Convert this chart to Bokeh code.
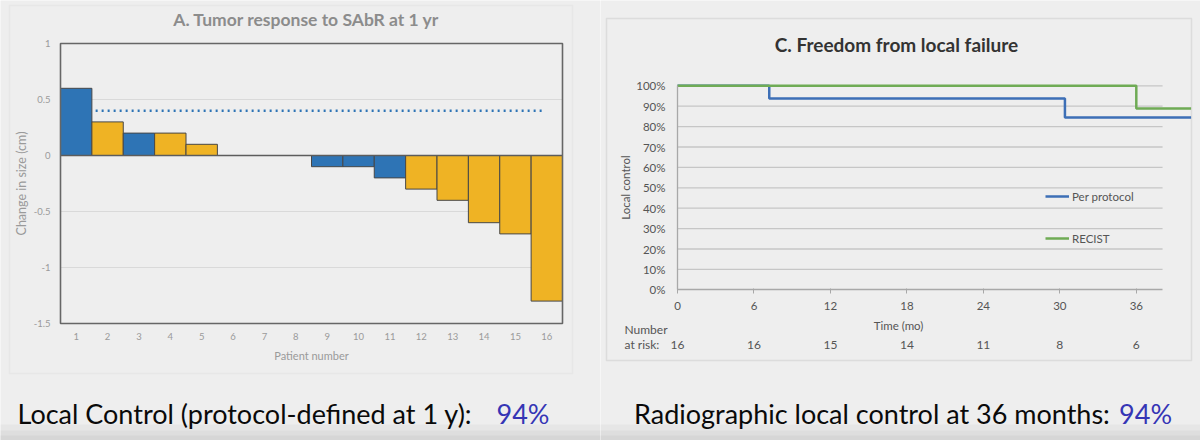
from bokeh.plotting import figure
from bokeh.models import (Range1d, FixedTicker, Label, BoxAnnotation,
                          Legend, LegendItem, NumeralTickFormatter)
from bokeh.layouts import row
from bokeh.embed import file_html
from bokeh.resources import INLINE

# ---------------- data ----------------
patients = list(range(1, 17))
change_cm = [0.6, 0.3, 0.2, 0.2, 0.1, 0.0, 0.0, 0.0,
             -0.1, -0.1, -0.2, -0.3, -0.4, -0.6, -0.7, -1.3]
bar_group = ["blue", "gold", "blue", "gold", "gold", "gold", "gold", "gold",
             "blue", "blue", "blue", "gold", "gold", "gold", "gold", "gold"]
threshold_cm = 0.4
threshold_span = [1.62, 15.85]
y_ticks_left = [-1.5, -1.0, -0.5, 0.0, 0.5, 1.0]
y_tick_labels_left = ["-1.5", "-1", "-0.5", "0", "0.5", "1"]
left_grid = [-1.0, -0.5, 0.5]

pp_time = [0, 7.2, 30.4, 40.3]
pp_control = [1.0, 0.9375, 0.844, 0.844]
recist_time = [0, 36.0, 40.3]
recist_control = [1.0, 0.889, 0.889]
x_ticks_right = [0, 6, 12, 18, 24, 30, 36]
at_risk = [16, 16, 15, 14, 11, 8, 6]
grid_levels = [0.1, 0.2, 0.3, 0.4, 0.5, 0.6, 0.7, 0.8, 0.9, 1.0]

# ---------------- style / layout ----------------
BG = "#eeeeee"
FONT = "Lato"
W, H = 600, 440
BLUE = "#2e74b5"
GOLD = "#efb324"
colors = {"blue": BLUE, "gold": GOLD}

# pixel box of each plot area inside its 600x440 canvas
L_BOX = dict(left=60, right=562, top=43, bottom=323)
L_DOM = dict(x0=0.5, x1=16.5, y0=-1.5, y1=1.0)
R_BOX = dict(left=77, right=535.8, top=85.3, bottom=289.3)   # right = x of 36 mo, top = 100 %
R_DOM = dict(x0=0.0, x1=36.0, y0=0.0, y1=1.0)
R_GRID_END = 38.06     # months, where grid lines and axis stop


def ranges(box, dom):
    kx = (box["right"] - box["left"]) / (dom["x1"] - dom["x0"])
    ky = (box["bottom"] - box["top"]) / (dom["y1"] - dom["y0"])
    xr = Range1d(dom["x0"] - box["left"] / kx, dom["x1"] + (W - box["right"]) / kx)
    yr = Range1d(dom["y0"] - (H - box["bottom"]) / ky, dom["y1"] + box["top"] / ky)
    return xr, yr


def sy(y_top):
    return H - y_top


def lab(p, x, y, text, size, color, align="left", style="normal", xu="screen",
        baseline="middle"):
    p.add_layout(Label(x=x, y=sy(y), x_units=xu, y_units="screen", text=text,
                       text_font=FONT, text_font_size=size, text_color=color,
                       text_align=align, text_baseline=baseline,
                       text_font_style=style))


def panel(p, left, right, top, bottom, color):
    p.add_layout(BoxAnnotation(left=left, right=right, bottom=sy(bottom), top=sy(top),
                               left_units="screen", right_units="screen",
                               top_units="screen", bottom_units="screen",
                               fill_color=None, line_color=color, line_width=1.5,
                               level="underlay"))


def base_fig(xr, yr):
    p = figure(width=W, height=H, x_range=xr, y_range=yr, title=None,
               output_backend="svg", toolbar_location=None,
               min_border=0, min_border_left=0, min_border_right=0,
               min_border_top=0, min_border_bottom=0,
               background_fill_color=BG, border_fill_color=BG, outline_line_color=None)
    p.xgrid.visible = False
    p.ygrid.visible = False
    # bottom shading of the slide
    for top, col in ((424, "#e6e6e6"), (430, "#dedede"), (435, "#d6d6d6")):
        p.add_layout(BoxAnnotation(left=0, right=W, bottom=0, top=sy(top),
                                   left_units="screen", right_units="screen",
                                   top_units="screen", bottom_units="screen",
                                   fill_color=col, fill_alpha=1, line_color=None,
                                   level="underlay"))
    return p


def style_axis(ax, size, color, line_color=None):
    ax.axis_line_color = line_color
    ax.major_tick_line_color = None
    ax.major_tick_in = 0
    ax.major_tick_out = 0
    ax.minor_tick_line_color = None
    ax.minor_tick_in = 0
    ax.minor_tick_out = 0
    ax.major_label_text_font = FONT
    ax.major_label_text_font_size = size
    ax.major_label_text_color = color
    ax.axis_label_text_font = FONT
    ax.axis_label_text_font_style = "normal"
    ax.axis_label_text_color = color


# ---------------- left chart ----------------
xr1, yr1 = ranges(L_BOX, L_DOM)
p1 = base_fig(xr1, yr1)
panel(p1, 9, 572, 5, 373, "#d6d6d6")

p1.segment(x0=L_DOM["x0"], x1=L_DOM["x1"], y0=left_grid, y1=left_grid,
           line_color="#d9d9d9", line_width=1.2)
p1.vbar(x=patients, top=change_cm, width=1.0,
        fill_color=[colors[g] for g in bar_group], line_color="#474747", line_width=1)
p1.line(x=[L_DOM["x0"], L_DOM["x1"]], y=[0, 0], line_color="#5c5c5c", line_width=1.6)
p1.quad(left=L_DOM["x0"], right=L_DOM["x1"], bottom=L_DOM["y0"], top=L_DOM["y1"],
        fill_color=None, line_color="#666666", line_width=1.6)
p1.line(x=threshold_span, y=[threshold_cm, threshold_cm], line_color=BLUE,
        line_width=2.5, line_dash="2 4")

for ax in (p1.xaxis[0], p1.yaxis[0]):
    style_axis(ax, "9.5px", "#9a9a9a")
p1.xaxis.fixed_location = L_DOM["y0"]
p1.xaxis.bounds = (L_DOM["x0"], L_DOM["x1"])
p1.xaxis.ticker = FixedTicker(ticks=patients)
p1.xaxis.major_label_standoff = 9
p1.xaxis.axis_label = "Patient number"
p1.xaxis.axis_label_text_font_size = "11px"
p1.xaxis.axis_label_standoff = 6
p1.yaxis.fixed_location = L_DOM["x0"]
p1.yaxis.bounds = (L_DOM["y0"], L_DOM["y1"])
p1.yaxis.ticker = FixedTicker(ticks=y_ticks_left)
p1.yaxis.major_label_overrides = dict(zip(y_ticks_left, y_tick_labels_left))
p1.yaxis.major_label_standoff = 10
p1.yaxis.axis_label = "Change in size (cm)"
p1.yaxis.axis_label_text_font_size = "12.5px"
p1.yaxis.axis_label_standoff = 2

lab(p1, 306, 19, "A. Tumor response to SAbR at 1 yr", "17.5px", "#8c8c8c", "center", "bold")
lab(p1, 17, 412.5, "Local Control (protocol-defined at 1 y):", "27px", "#0a0a0a",
    baseline="alphabetic")
lab(p1, 496, 412.5, "94%", "27px", "#3535b5", baseline="alphabetic")

# ---------------- right chart ----------------
xr2, yr2 = ranges(R_BOX, R_DOM)
p2 = base_fig(xr2, yr2)
panel(p2, 6, 591, 18, 360, "#b4b4b4")

p2.segment(x0=0, x1=R_GRID_END, y0=grid_levels, y1=grid_levels,
           line_color="#c6c6c6", line_width=1.3)
r_pp = p2.step(x=pp_time, y=pp_control, mode="after", line_color="#3d6fb6", line_width=2.5)
r_rc = p2.step(x=recist_time, y=recist_control, mode="after", line_color="#6fab55",
               line_width=2.5)

for ax in (p2.xaxis[0], p2.yaxis[0]):
    style_axis(ax, "11.5px", "#555555", "#a8a8a8")
    ax.axis_line_width = 1.3
p2.xaxis.fixed_location = 0
p2.xaxis.bounds = (0, R_GRID_END)
p2.xaxis.ticker = FixedTicker(ticks=x_ticks_right)
p2.xaxis.major_tick_in = 1
p2.xaxis.major_tick_out = 4
p2.xaxis.major_tick_line_color = "#a8a8a8"
p2.xaxis.major_label_standoff = 8
p2.yaxis.fixed_location = 0
p2.yaxis.bounds = (0, 1.0)
p2.yaxis.ticker = FixedTicker(ticks=[0.0] + grid_levels)
p2.yaxis.formatter = NumeralTickFormatter(format="0%")
p2.yaxis.major_label_standoff = 12
p2.yaxis.axis_label = "Local control"
p2.yaxis.axis_label_text_font_size = "11.5px"
p2.yaxis.axis_label_standoff = 1

legend = Legend(items=[LegendItem(label="Per protocol", renderers=[r_pp]),
                       LegendItem(label="RECIST", renderers=[r_rc])],
                location=(445, 192), orientation="vertical",
                background_fill_alpha=0, border_line_color=None,
                padding=0, margin=0, spacing=22, label_height=20, glyph_height=20,
                glyph_width=24, label_standoff=3,
                label_text_font=FONT, label_text_font_size="11.5px",
                label_text_color="#555555")
p2.add_layout(legend, "center")

lab(p2, 296, 44, "C. Freedom from local failure", "19px", "#333333", "center", "bold")
lab(p2, 298, 325, "Time (mo)", "11.5px", "#555555", "center")
lab(p2, 24, 329, "Number", "12px", "#555555")
lab(p2, 24, 344, "at risk:", "12px", "#555555")
for t, n in zip(x_ticks_right, at_risk):
    lab(p2, t, 344, str(n), "12px", "#555555", "center", xu="data")
lab(p2, 33.5, 412.5, "Radiographic local control at 36 months:", "27px", "#0a0a0a",
    baseline="alphabetic")
lab(p2, 518.6, 412.5, "94%", "27px", "#3535b5", baseline="alphabetic")

layout = row(p1, p2, spacing=0)
open("out.html", "w").write(file_html(layout, INLINE))
